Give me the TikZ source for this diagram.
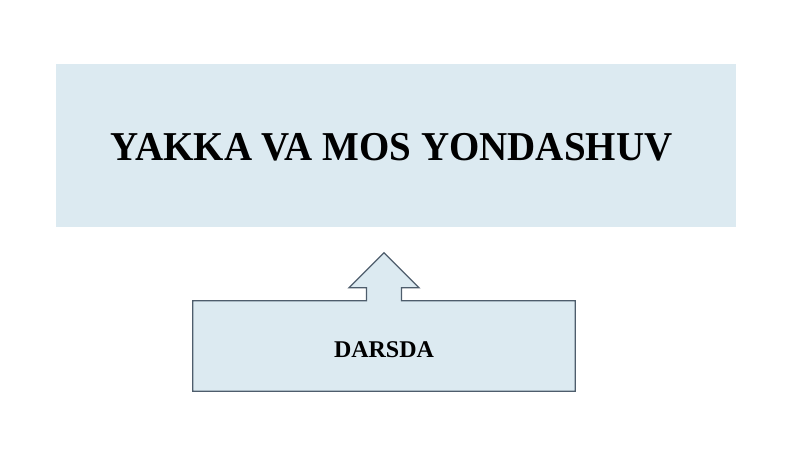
\documentclass[tikz,border=0pt]{standalone}
\usepackage{fontspec}
\setmainfont{Liberation Serif}
\usetikzlibrary{positioning, calc}

\definecolor{boxfill}{HTML}{DCEAF1}
\definecolor{boxline}{HTML}{4E5D6C}

\tikzset{
    titlebox/.style={fill=boxfill, minimum width=680pt, minimum height=163pt, inner sep=0pt},
    titletext/.style={inner sep=0pt, font=\fontsize{41}{46}\selectfont\bfseries},
    upbox/.style={minimum width=382pt, minimum height=90pt, inner sep=0pt,
        font=\fontsize{24}{28}\selectfont\bfseries}
}

\begin{document}
\begin{tikzpicture}[x=1pt, y=-1pt]
        \useasboundingbox (0, 0) rectangle (800, 476);

        \node[titlebox] (Yakka) at (396, 145.5) {};
        \node[titletext] (YakkaText) at (391.5, 147.5) {\scalebox{0.95}[1]{YAKKA VA MOS YONDASHUV}};

        \node[upbox] (Darsda) at (384, 346) {};
        % box and arrow share one outline
        \draw[boxline, fill=boxfill, line width=1.3pt, line join=miter]
            (Darsda.south west) -- (Darsda.north west)
            -- ($(Darsda.north)+(-17.5, 0)$) -- ($(Darsda.north)+(-17.5, -13)$)
            -- ($(Darsda.north)+(-35, -13)$) -- ($(Darsda.north)+(0, -48)$)
            -- ($(Darsda.north)+(35, -13)$) -- ($(Darsda.north)+(17.5, -13)$)
            -- ($(Darsda.north)+(17.5, 0)$) -- (Darsda.north east)
            -- (Darsda.south east) -- cycle;
        \node[upbox] (DarsdaText) at ($(Darsda.center)+(0, 4)$) {DARSDA};
    \end{tikzpicture}
\end{document}
